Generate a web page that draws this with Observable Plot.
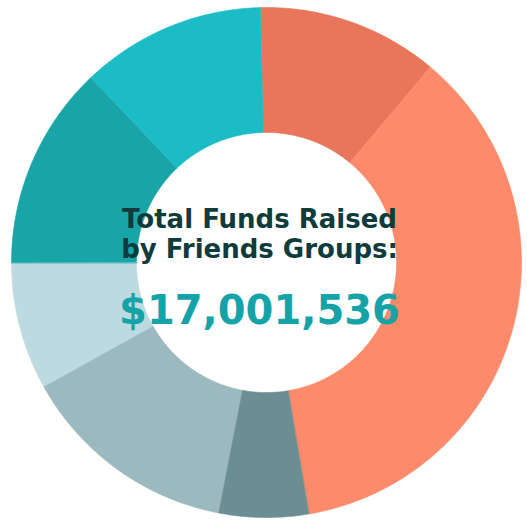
<!DOCTYPE html>
<html><head><meta charset="utf-8">
<script src="https://cdn.jsdelivr.net/npm/d3@7"></script>
<script src="https://cdn.jsdelivr.net/npm/@observablehq/plot@0.6"></script>
<style>html,body{margin:0;padding:0;background:#fff;overflow:hidden}</style>
</head><body><div id="chart"></div>
<script>
// Data
const groups = ["Group A", "Group B", "Group C", "Group D", "Group E", "Group F", "Group G"];
const amounts = [1955000, 6160000, 970000, 2360000, 1370000, 2200000, 1986536];
const colors = ["#E8765A", "#FD8A6B", "#6B8E92", "#9CB9BF", "#BDDAE0", "#19A4A8", "#1CBCC6"];
const titleLines = ["Total Funds Raised", "by Friends Groups:"];
const totalLabel = "$17,001,536";

// Layout
const W = 527, H = 523;
const cx = 266, cy = 262, R = 255, innerRatio = 0.51;
const startOffset = -1.4 * Math.PI / 180;

const pie = d3.pie().sort(null).value(d => d.amount)
  .startAngle(startOffset).endAngle(startOffset + 2 * Math.PI);
const arcs = pie(groups.map((g, i) => ({group: g, amount: amounts[i]})));

// Build ring-segment polygons in unit space
const pts = [];
for (const a of arcs) {
  const n = Math.max(8, Math.ceil((a.endAngle - a.startAngle) * 60));
  for (let k = 0; k <= n; k++) {
    const t = a.startAngle + (a.endAngle - a.startAngle) * k / n;
    pts.push({group: a.data.group, x: Math.sin(t), y: Math.cos(t)});
  }
  for (let k = n; k >= 0; k--) {
    const t = a.startAngle + (a.endAngle - a.startAngle) * k / n;
    pts.push({group: a.data.group, x: innerRatio * Math.sin(t), y: innerRatio * Math.cos(t)});
  }
}

const chart = Plot.plot({
  width: W, height: H, margin: 0,
  style: {background: "#fff"},
  x: {domain: [-1, 1], range: [cx - R, cx + R], axis: null},
  y: {domain: [-1, 1], range: [cy + R, cy - R], axis: null},
  color: {domain: groups, range: colors},
  marks: [
    Plot.line(pts, {x: "x", y: "y", z: "group", fill: "group", stroke: "group", strokeWidth: 0.6, curve: "linear-closed"}),
    Plot.text([titleLines[0]], {
      text: d => d, frameAnchor: "top-left", dx: 259, dy: 209,
      textAnchor: "middle", lineAnchor: "top",
      fontSize: 26, fontWeight: "bold", fontFamily: "DejaVu Sans", fill: "#0F3B3C"
    }),
    Plot.text([titleLines[1]], {
      text: d => d, frameAnchor: "top-left", dx: 259, dy: 239,
      textAnchor: "middle", lineAnchor: "top",
      fontSize: 26, fontWeight: "bold", fontFamily: "DejaVu Sans", fill: "#0F3B3C"
    }),
    Plot.text([totalLabel], {
      text: d => d, frameAnchor: "top-left", dx: 259, dy: 295,
      textAnchor: "middle", lineAnchor: "top",
      fontSize: 40, fontWeight: "bold", fontFamily: "DejaVu Sans", fill: "#15A3A8"
    })
  ]
});
document.getElementById("chart").appendChild(chart);
</script>
</body></html>
